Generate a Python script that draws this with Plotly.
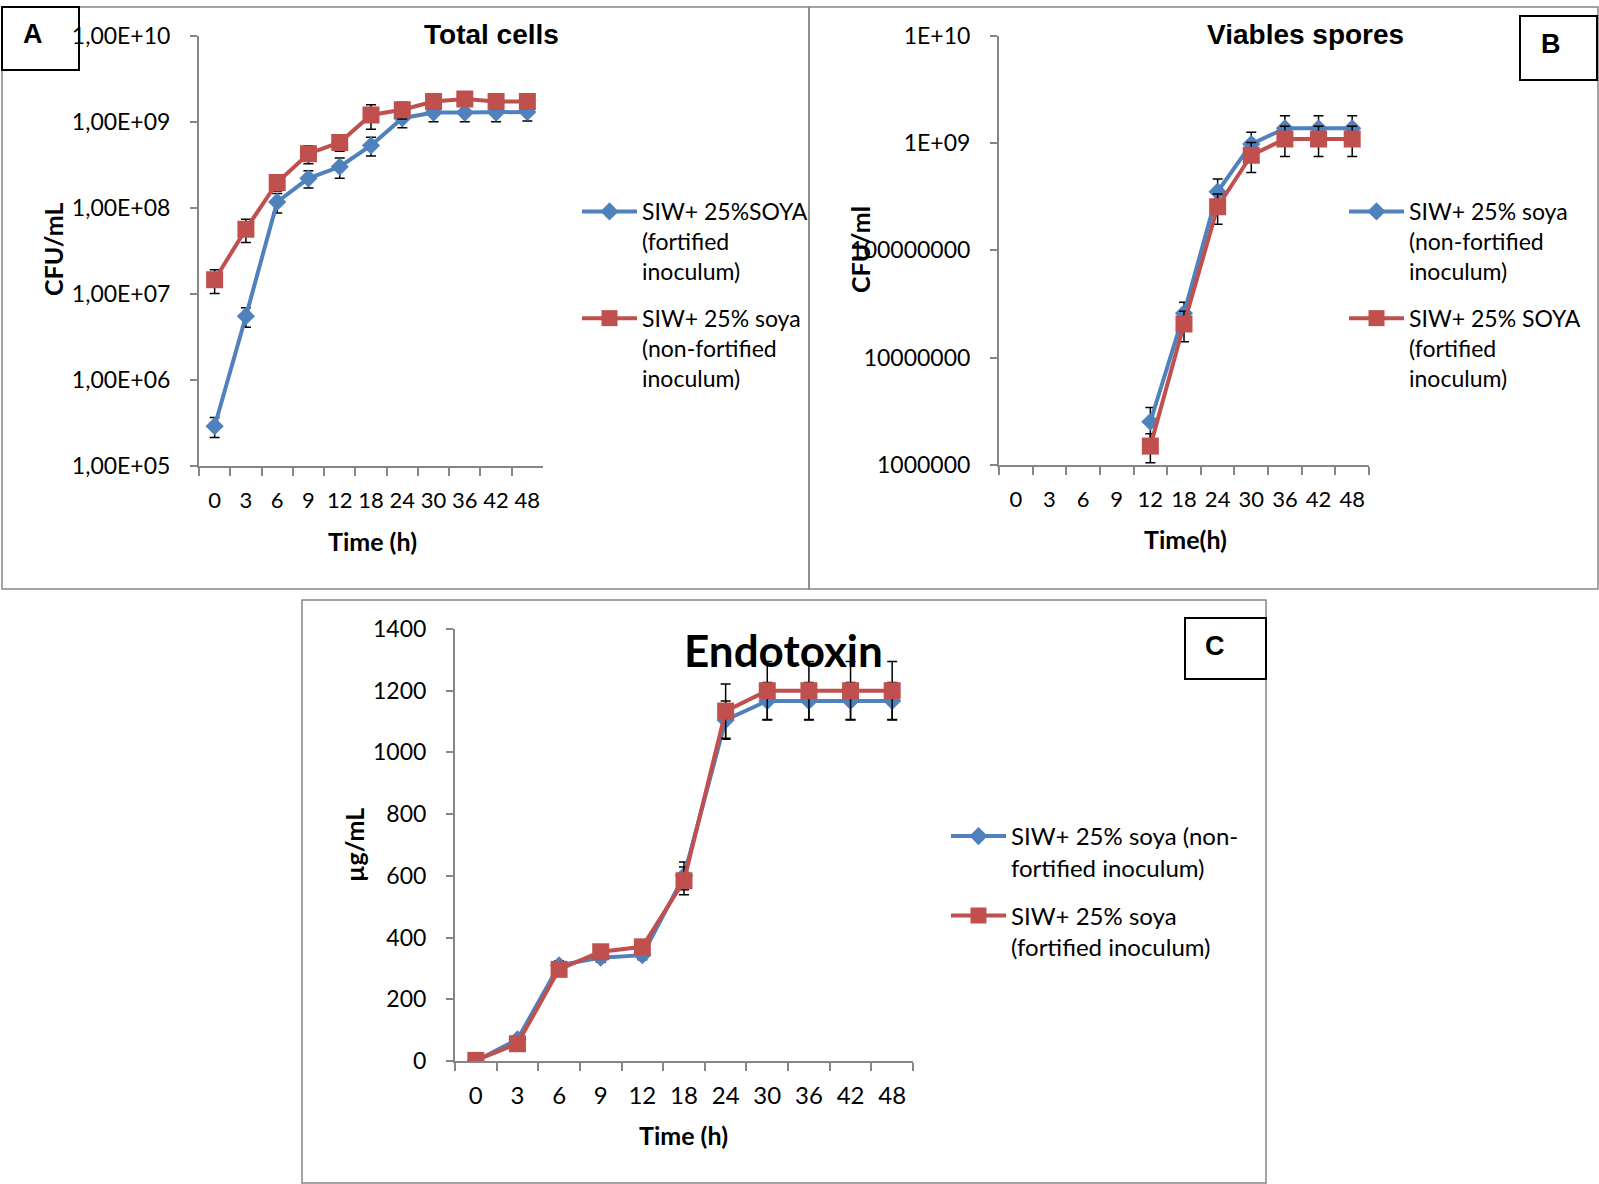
import plotly.graph_objects as go

W, H = 1599, 1184
def px(x): return x / W
def py(y): return 1 - y / H

time_labels = ["0", "3", "6", "9", "12", "18", "24", "30", "36", "42", "48"]

# Panel A - Total cells (CFU/mL)
a_fort = [2.9e5, 5.5e6, 1.17e8, 2.2e8, 3.0e8, 5.3e8, 1.1e9, 1.28e9, 1.28e9, 1.28e9, 1.3e9]
a_fort_err = [0.75e5, 1.4e6, 3e7, 5e7, 8e7, 1.3e8, 2.5e8, 2.8e8, 2.8e8, 2.8e8, 2.8e8]
a_nonfort = [1.46e7, 5.65e7, 1.97e8, 4.25e8, 5.75e8, 1.2e9, 1.38e9, 1.72e9, 1.84e9, 1.72e9, 1.72e9]
a_nonfort_err = [4.5e6, 1.7e7, 4e7, 1e8, 1.2e8, 3.8e8, 3e8, 3e8, 3e8, 3e8, 3e8]

# Panel B - Viable spores (CFU/ml)
b_nonfort = [None, None, None, None, 2.53e6, 2.59e7, 3.52e8, 9.77e8, 1.37e9, 1.37e9, 1.37e9]
b_nonfort_err = [0, 0, 0, 0, 0.9e6, 0.7e7, 1.1e8, 2.8e8, 4.3e8, 4.3e8, 4.3e8]
b_fort = [None, None, None, None, 1.5e6, 2.06e7, 2.55e8, 7.7e8, 1.09e9, 1.09e9, 1.09e9]
b_fort_err = [0, 0, 0, 0, 0.45e6, 0.65e7, 0.8e8, 2.4e8, 3.4e8, 3.4e8, 3.4e8]

# Panel C - Endotoxin (µg/mL)
c_nonfort = [0, 70, 310, 335, 343, 600, 1105, 1167, 1167, 1167, 1167]
c_nonfort_err = [5, 10, 15, 15, 15, 45, 62, 60, 60, 60, 60]
c_fort = [2, 56, 297, 354, 370, 584, 1134, 1200, 1200, 1200, 1200]
c_fort_err = [5, 10, 15, 15, 15, 45, 88, 95, 95, 95, 95]

a_ticks = [1e5, 1e6, 1e7, 1e8, 1e9, 1e10]
a_ticktext = ["1,00E+05", "1,00E+06", "1,00E+07", "1,00E+08", "1,00E+09", "1,00E+10"]
b_ticks = [1e6, 1e7, 1e8, 1e9, 1e10]
b_ticktext = ["1000000", "10000000", "100000000", "1E+09", "1E+10"]

BLUE = "#4F81BD"
RED = "#C0504D"
AX = "#868686"
FONT = "Lato"

fig = go.Figure()

def add(x, y, err, color, symbol, size, name, xa, ya, legend, group):
    fig.add_trace(go.Scatter(
        x=x, y=y, name=name, mode="lines+markers",
        line=dict(color=color, width=4),
        marker=dict(symbol=symbol, size=size, color=color),
        error_y=dict(type="data", array=err, visible=True, color="black", thickness=1.5, width=5),
        xaxis=xa, yaxis=ya, legend=legend, legendgroup=group, connectgaps=False,
    ))

add(time_labels, a_fort, a_fort_err, BLUE, "diamond", 14,
    "SIW+ 25%SOYA<br>(fortified<br>inoculum)", "x", "y", "legend", "a1")
add(time_labels, a_nonfort, a_nonfort_err, RED, "square", 17,
    "SIW+ 25% soya<br>(non-fortified<br>inoculum)", "x", "y", "legend", "a2")
add(time_labels, b_nonfort, b_nonfort_err, BLUE, "diamond", 14,
    "SIW+ 25% soya<br>(non-fortified<br>inoculum)", "x2", "y2", "legend2", "b1")
add(time_labels, b_fort, b_fort_err, RED, "square", 17,
    "SIW+ 25% SOYA<br>(fortified<br>inoculum)", "x2", "y2", "legend2", "b2")
add(time_labels, c_nonfort, c_nonfort_err, BLUE, "diamond", 14,
    "SIW+ 25% soya (non-<br>fortified inoculum)", "x3", "y3", "legend3", "c1")
add(time_labels, c_fort, c_fort_err, RED, "square", 17,
    "SIW+ 25% soya<br>(fortified inoculum)", "x3", "y3", "legend3", "c2")

xcommon = dict(type="category", range=[-0.5, len(time_labels) - 0.5],
               showline=True, linecolor=AX, linewidth=2, ticks="outside",
               tickson="boundaries", ticklen=8, tickwidth=1.5, tickcolor=AX, showgrid=False,
               zeroline=False, tickangle=0, automargin=False, fixedrange=True)
ycommon = dict(showline=True, linecolor=AX, linewidth=2, ticks="outside", ticklen=7,
               tickwidth=1.5, tickcolor=AX, showgrid=False, zeroline=False, automargin=False,
               tickfont=dict(family=FONT, size=23, color="black"), ticklabelstandoff=15)

legcommon = dict(bgcolor="rgba(0,0,0,0)",
                 valign="top", tracegroupgap=14, itemwidth=55, xanchor="left", yanchor="top",
                 itemclick=False, itemdoubleclick=False)

fig.update_layout(
    width=W, height=H, margin=dict(l=0, r=0, t=0, b=0, autoexpand=False),
    paper_bgcolor="white", plot_bgcolor="rgba(0,0,0,0)", showlegend=True,
    xaxis=dict(domain=[px(199), px(543)], anchor="y", ticklabelstandoff=14,
               tickfont=dict(family=FONT, size=22, color="black"), **xcommon),
    yaxis=dict(domain=[py(466), py(35.7)], anchor="x", type="log", range=[5, 10],
               tickvals=a_ticks, ticktext=a_ticktext, **ycommon),
    xaxis2=dict(domain=[px(999), px(1369)], anchor="y2", ticklabelstandoff=14,
                tickfont=dict(family=FONT, size=22, color="black"), **xcommon),
    yaxis2=dict(domain=[py(465), py(35.7)], anchor="x2", type="log", range=[6, 10],
                tickvals=b_ticks, ticktext=b_ticktext, **ycommon),
    xaxis3=dict(domain=[px(455), px(913)], anchor="y3", ticklabelstandoff=12,
                tickfont=dict(family=FONT, size=24, color="black"), **xcommon),
    yaxis3=dict(domain=[py(1061), py(629)], anchor="x3", range=[0, 1400], dtick=200, **ycommon),
    legend=dict(x=px(577), y=py(190), font=dict(family=FONT, size=23, color="black"), **legcommon),
    legend2=dict(x=px(1344), y=py(190), font=dict(family=FONT, size=23, color="black"), **legcommon),
    legend3=dict(x=px(946), y=py(814), font=dict(family=FONT, size=24, color="black"), **legcommon),
)

shapes = []
# panel borders
shapes.append(dict(type="rect", xref="paper", yref="paper", x0=px(2), x1=px(809), y0=py(589), y1=py(7),
                   line=dict(color=AX, width=1.5), layer="below"))
shapes.append(dict(type="rect", xref="paper", yref="paper", x0=px(809), x1=px(1598), y0=py(589), y1=py(7),
                   line=dict(color=AX, width=1.5), layer="below"))
shapes.append(dict(type="rect", xref="paper", yref="paper", x0=px(302), x1=px(1266), y0=py(1183), y1=py(600),
                   line=dict(color=AX, width=1.5), layer="below"))
# label boxes
for (x0, y0, x1, y1) in [(2, 7, 79, 70), (1520, 16, 1597, 80), (1185, 618, 1266, 679)]:
    shapes.append(dict(type="rect", xref="paper", yref="paper", x0=px(x0), x1=px(x1), y0=py(y1), y1=py(y0),
                       line=dict(color="black", width=2), fillcolor="white", layer="below"))
fig.update_layout(shapes=shapes)

ann = []
def text(x, y, s, size, family=FONT, bold=True, angle=0):
    ann.append(dict(x=px(x), y=py(y), xref="paper", yref="paper", text=f"<b>{s}</b>" if bold else s,
                    showarrow=False, xanchor="center", yanchor="middle", textangle=angle,
                    font=dict(family=family, size=size, color="black")))

text(33, 34, "A", 27, "Liberation Sans")
text(1551, 44, "B", 27, "Liberation Sans")
text(1215, 646, "C", 27, "Liberation Sans")
text(491, 34, "Total cells", 28, "Liberation Sans")
text(1305, 34, "Viables spores", 28, "Liberation Sans")
text(783, 650, "Endotoxin", 44)
text(53, 250, "CFU/mL", 25, angle=-90)
text(860, 250, "CFU/ml", 25, angle=-90)
text(354, 845, "µg/mL", 25, angle=-90)
text(372, 541, "Time (h)", 25)
text(1185, 539, "Time(h)", 25)
text(683, 1135, "Time (h)", 25)
fig.update_layout(annotations=ann)

fig.write_html("out.html")
